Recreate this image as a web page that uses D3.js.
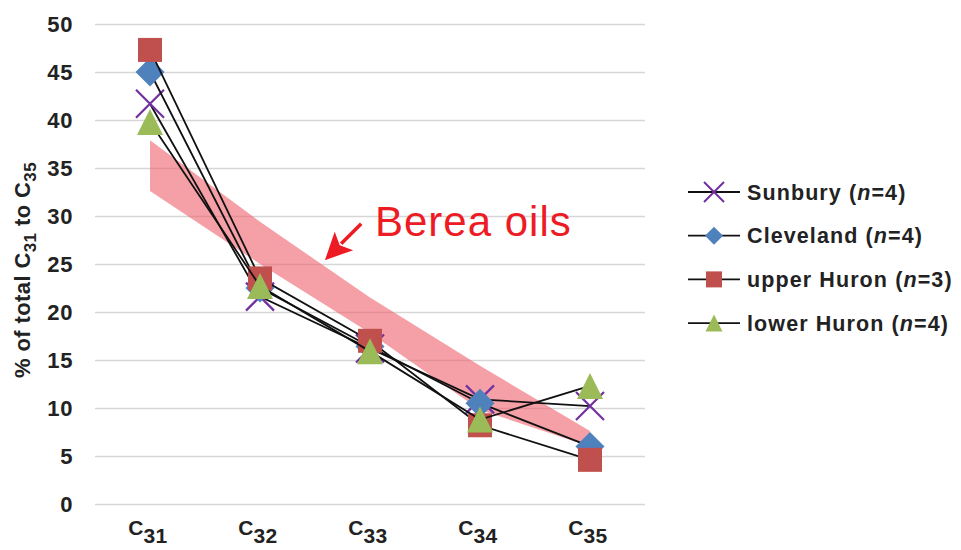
<!DOCTYPE html>
<html>
<head>
<meta charset="utf-8">
<script src="https://cdn.jsdelivr.net/npm/d3@7"></script>
<style>
  body { margin: 0; background: #fff; }
  svg { display: block; font-family: "Liberation Sans", Arial, sans-serif; }
</style>
</head>
<body>
<div id="chartContainer"></div>
<script>
// Chart data
const categories = ["31", "32", "33", "34", "35"];
const sunbury = [41.7, 21.6, 16.2, 10.9, 10.2];
const cleveland = [45.0, 22.5, 16.4, 10.5, 6.0];
const upperHuron = [47.3, 23.5, 17.0, 8.2, 4.6];
const lowerHuron = [39.8, 22.7, 15.9, 8.8, 12.3];
const bereaUpper = [37.9, 29.4, 21.5, 14.4, 7.6];
const bereaLower = [32.6, 25.0, 17.8, 9.8, 6.0];
const yTicks = [0, 5, 10, 15, 20, 25, 30, 35, 40, 45, 50];

const seriesNames = ["Sunbury", "Cleveland", "upper Huron", "lower Huron"];
const seriesN = [4, 4, 3, 4];

function createChart() {
    const width = 961;
    const height = 550;
    const plotLeft = 95;
    const plotRight = 645;
    const plotTop = 24;
    const plotBottom = 504;

    const x = d3.scaleBand()
        .domain(categories)
        .range([plotLeft, plotRight])
        .padding(0);
    const cx = c => x(c) + x.bandwidth() / 2;

    const y = d3.scaleLinear()
        .domain([0, 50])
        .range([plotBottom, plotTop]);

    const svg = d3.create("svg")
        .attr("viewBox", [0, 0, width, height])
        .attr("width", width)
        .attr("height", height);

    // gridlines + y tick labels
    const yAxis = g => g
        .attr("transform", `translate(${plotLeft},0)`)
        .call(d3.axisLeft(y).tickValues(yTicks).tickSize(-(plotRight - plotLeft)).tickPadding(22))
        .call(g => g.select(".domain").remove())
        .call(g => g.selectAll(".tick line").attr("stroke", "#d6d6d6").attr("stroke-width", 1.6))
        .call(g => g.selectAll(".tick text")
            .attr("fill", "#222")
            .attr("font-size", 22)
            .attr("font-weight", "bold")
            .attr("letter-spacing", 0.6)
            .attr("font-family", "'Liberation Sans', Arial, sans-serif"));
    svg.append("g").call(yAxis);

    // x tick labels with subscripts
    const xLabels = svg.append("g").selectAll("text")
        .data(categories)
        .join("text")
        .attr("x", d => cx(d) - 2)
        .attr("y", 535)
        .attr("text-anchor", "middle")
        .attr("font-weight", "bold")
        .attr("fill", "#222");
    xLabels.append("tspan").attr("font-size", 21).text("C");
    xLabels.append("tspan").attr("font-size", 21).attr("dy", 8).attr("letter-spacing", 0.5).text(d => d);

    // y axis title
    const yTitle = svg.append("text")
        .attr("transform", `translate(30,${(plotTop + plotBottom) / 2 + 6}) rotate(-90)`)
        .attr("text-anchor", "middle")
        .attr("font-weight", "bold")
        .attr("font-size", 22)
        .attr("letter-spacing", 0.4)
        .attr("fill", "#222");
    yTitle.append("tspan").text("% of total C");
    yTitle.append("tspan").attr("font-size", 17).attr("dy", 6).text("31");
    yTitle.append("tspan").attr("dy", -6).text(" to C");
    yTitle.append("tspan").attr("font-size", 17).attr("dy", 6).text("35");

    // Berea oils band
    const band = d3.area()
        .x((d, i) => cx(categories[i]))
        .y0((d, i) => y(bereaLower[i]))
        .y1((d, i) => y(bereaUpper[i]));
    svg.append("path")
        .datum(bereaUpper)
        .attr("d", band)
        .attr("fill", "rgb(237,97,107)")
        .attr("fill-opacity", 0.6);

    // marker shapes
    const markerPath = {
        x: s => `M${-s / 2},${-s / 2}L${s / 2},${s / 2}M${s / 2},${-s / 2}L${-s / 2},${s / 2}`,
        diamond: s => `M0,${-s / 2}L${s / 2},0L0,${s / 2}L${-s / 2},0Z`,
        square: s => `M${-s / 2},${-s / 2}H${s / 2}V${s / 2}H${-s / 2}Z`,
        triangle: s => `M0,${-s / 2}L${s / 2},${s / 2}L${-s / 2},${s / 2}Z`
    };
    const styles = [
        { shape: "x", size: 28, legendSize: 20, fill: "none", stroke: "#7030a0" },
        { shape: "diamond", size: 29, legendSize: 18, fill: "#4f81bd", stroke: "none" },
        { shape: "square", size: 24, legendSize: 16, fill: "#c0504d", stroke: "none" },
        { shape: "triangle", size: 26, legendSize: 17, fill: "#9bbb59", stroke: "none" }
    ];
    const allSeries = [sunbury, cleveland, upperHuron, lowerHuron];

    const line = d3.line()
        .x((d, i) => cx(categories[i]))
        .y(d => y(d));

    allSeries.forEach((values, k) => {
        const st = styles[k];
        const g = svg.append("g");
        g.append("path")
            .datum(values)
            .attr("d", line)
            .attr("fill", "none")
            .attr("stroke", "#111")
            .attr("stroke-width", 1.8);
        g.selectAll("path.mk")
            .data(values)
            .join("path")
            .attr("class", "mk")
            .attr("transform", (d, i) => `translate(${cx(categories[i])},${y(d)})`)
            .attr("d", markerPath[st.shape](st.size))
            .attr("fill", st.fill)
            .attr("stroke", st.stroke)
            .attr("stroke-width", 2.2);
    });

    // annotation: Berea oils
    const step = x.step();
    const tip = [cx("32") + 0.59 * step, y(25.4)];
    const tail = [cx("32") + 0.92 * step, y(29.2)];
    const ang = Math.atan2(tip[1] - tail[1], tip[0] - tail[0]);
    const headLen = 27, headW = 13;
    const bx = tip[0] - headLen * Math.cos(ang), by = tip[1] - headLen * Math.sin(ang);
    svg.append("line")
        .attr("x1", tail[0]).attr("y1", tail[1])
        .attr("x2", bx + 4 * Math.cos(ang)).attr("y2", by + 4 * Math.sin(ang))
        .attr("stroke", "#ed1c24")
        .attr("stroke-width", 3.5);
    svg.append("path")
        .attr("d", `M${tip[0]},${tip[1]}L${bx + headW * Math.sin(ang)},${by - headW * Math.cos(ang)}L${bx + 6 * Math.cos(ang)},${by + 6 * Math.sin(ang)}L${bx - headW * Math.sin(ang)},${by + headW * Math.cos(ang)}Z`)
        .attr("fill", "#ed1c24");
    svg.append("text")
        .attr("x", cx("33") + 5)
        .attr("y", y(27.9))
        .attr("font-size", 42)
        .attr("letter-spacing", 1)
        .attr("fill", "#ed1c24")
        .text("Berea oils");

    // legend
    const legend = svg.append("g").selectAll("g")
        .data(seriesNames)
        .join("g")
        .attr("transform", (d, i) => `translate(688,${192 + i * 43.7})`);
    legend.append("line")
        .attr("x1", 0).attr("x2", 52)
        .attr("stroke", "#111")
        .attr("stroke-width", 1.8);
    legend.append("path")
        .attr("transform", "translate(26,0)")
        .attr("d", (d, i) => markerPath[styles[i].shape](styles[i].legendSize))
        .attr("fill", (d, i) => styles[i].fill)
        .attr("stroke", (d, i) => styles[i].stroke)
        .attr("stroke-width", 2);
    const lt = legend.append("text")
        .attr("x", 59)
        .attr("dy", "0.36em")
        .attr("font-size", 21.5)
        .attr("font-weight", "bold")
        .attr("letter-spacing", 1.1)
        .attr("fill", "#222");
    lt.append("tspan").text(d => d + " (");
    lt.append("tspan").attr("font-style", "italic").text("n");
    lt.append("tspan").text((d, i) => "=" + seriesN[i] + ")");

    return svg.node();
}

document.getElementById("chartContainer").appendChild(createChart());
</script>
</body>
</html>
